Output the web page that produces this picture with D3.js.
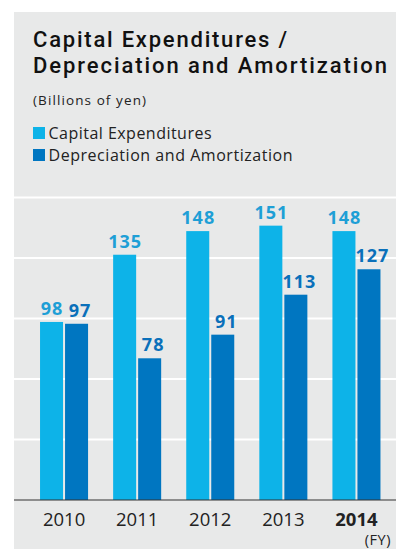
<!DOCTYPE html>
<html><head><meta charset="utf-8">
<script src="https://cdn.jsdelivr.net/npm/d3@7"></script>
<style>
html,body{margin:0;padding:0;background:#fff;}
svg{display:block;font-family:"Open Sans",sans-serif;}
</style></head>
<body>
<script>
const years = ["2010","2011","2012","2013","2014"];
const seriesNames = ["Capital Expenditures","Depreciation and Amortization"];
const capex = [98,135,148,151,148];
const depreciation = [97,78,91,113,127];
const gridTicks = [0,1,2,3,4,5];

const W=396,H=549;
const svg=d3.select("body").append("svg").attr("width",W).attr("height",H);
const colors={bar:["#0db3e8","#0076c1"],label:["#1e9fd6","#0a70ba"]};

svg.append("rect").attr("x",14).attr("y",12).attr("width",W-14).attr("height",H-12).attr("fill","#e8e9e9");

// title
svg.append("text").attr("x",33).attr("y",47).attr("fill","#111").attr("font-family","Roboto, sans-serif").attr("font-weight",500).attr("font-size",22)
  .attr("textLength",254).attr("lengthAdjust","spacing").text("Capital Expenditures /");
svg.append("text").attr("x",33).attr("y",73).attr("fill","#111").attr("font-family","Roboto, sans-serif").attr("font-weight",500).attr("font-size",22)
  .attr("textLength",354).attr("lengthAdjust","spacing").text("Depreciation and Amortization");
svg.append("text").attr("x",33).attr("y",105).attr("font-size",13.5).attr("fill","#222")
  .attr("textLength",113).attr("lengthAdjust","spacing").text("(Billions of yen)");

// legend
const legendW=[163,244];
seriesNames.forEach((n,i)=>{
  const yy=127+i*22;
  svg.append("rect").attr("x",33).attr("y",yy).attr("width",12).attr("height",12).attr("fill",colors.bar[i]);
  svg.append("text").attr("x",48.5).attr("y",yy+12).attr("font-size",16).attr("fill","#222")
    .attr("textLength",legendW[i]).attr("lengthAdjust","spacing").text(n);
});

const y=d3.scaleLinear().domain([0,166.5]).range([500,197.5]);
const x0=d3.scaleBand().domain(years).range([27.5,393]).paddingInner(0.343).paddingOuter(0.1715);
const x1=d3.scaleBand().domain(seriesNames).range([0,x0.bandwidth()]).paddingInner(0.08).paddingOuter(0);

// gridlines
const step=166.5/5;
svg.append("g").selectAll("line").data(gridTicks.slice(1)).join("line")
  .attr("x1",14).attr("x2",W).attr("y1",d=>y(d*step)).attr("y2",d=>y(d*step))
  .attr("stroke","#ffffff").attr("stroke-width",2);

const rows=years.map((yr,i)=>({yr,vals:[capex[i],depreciation[i]]}));
const g=svg.append("g").selectAll("g").data(rows).join("g").attr("transform",d=>`translate(${x0(d.yr)},0)`);
g.selectAll("rect").data(d=>d.vals.map((v,i)=>({v,i}))).join("rect")
  .attr("x",d=>x1(seriesNames[d.i])).attr("width",x1.bandwidth())
  .attr("y",d=>y(d.v)).attr("height",d=>y(0)-y(d.v)).attr("fill",d=>colors.bar[d.i]);
g.selectAll("text").data(d=>d.vals.map((v,i)=>({v,i}))).join("text")
  .attr("x",d=>x1(seriesNames[d.i])+x1.bandwidth()/2+(d.i?3:0)+0.5)
  .attr("y",d=>y(d.v)-7).attr("text-anchor","middle")
  .attr("font-size",18).attr("letter-spacing",1).attr("font-weight",700).attr("fill",d=>colors.label[d.i]).text(d=>d.v);

// axis
const ax=svg.append("g").attr("transform","translate(0,500)")
  .call(d3.axisBottom(x0).tickSize(0).tickPadding(12));
ax.select(".domain").remove();
ax.append("line").attr("x1",14).attr("x2",W).attr("stroke","#333").attr("stroke-width",1.2);
ax.selectAll(".tick text").attr("font-size",18.5).attr("fill","#222")
  .attr("font-family","Open Sans, sans-serif")
  .attr("font-weight",d=>d==="2014"?700:400).attr("dy",0).attr("y",26);
svg.append("text").attr("x",391).attr("y",545).attr("text-anchor","end").attr("font-size",14.5).attr("letter-spacing",0.5).attr("fill","#222").text("(FY)");
</script>
</body></html>
